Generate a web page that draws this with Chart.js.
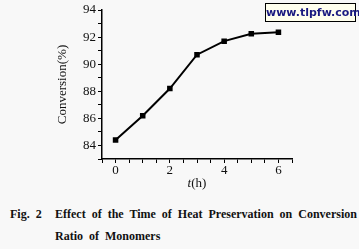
<!DOCTYPE html>
<html>
<head>
<meta charset="utf-8">
<script src="https://cdn.jsdelivr.net/npm/chart.js@4"></script>
<style>
  html, body { margin: 0; padding: 0; background: #f8f8f8; }
  #wrap { position: relative; width: 359px; height: 249px; overflow: hidden; }
  #chart { position: absolute; left: 0; top: 0; }
  .mark {
    position: absolute; left: 265px; top: 3px; width: 89px; height: 17px;
    border: 1px solid #000; background: #ffffee; color: #1a1a80;
    font: bold 11px Verdana, "DejaVu Sans", sans-serif; line-height: 17px; text-align: center;
  }
  .cap {
    position: absolute; font: bold 12px "Liberation Serif", "Times New Roman", serif; color: #111;
    white-space: nowrap; word-spacing: 3px;
  }
</style>
</head>
<body>
<div id="wrap">
  <canvas id="chart" width="359" height="195"></canvas>
  <div class="mark">www.tlpfw.com</div>
  <div class="cap" style="left:10px; top:207px;">Fig. 2</div>
  <div class="cap" style="left:55px; top:207px;">Effect of the Time of Heat Preservation on Conversion</div>
  <div class="cap" style="left:55px; top:229px;">Ratio of Monomers</div>
</div>
<script>
// dados
const horas = [0, 1, 2, 3, 4, 5, 6];
const conversao = [84.4, 86.2, 88.2, 90.7, 91.7, 92.25, 92.35];

const eixoX = { min: -0.5, max: 6.5, passo: 0.5 };
const eixoY = { min: 83, max: 94, passo: 1, titulo: 'Conversion(%)' };

const serif = '"Liberation Serif", "Times New Roman", serif';
const fonteSerif = { family: serif, size: 13 };

// título do eixo x com "t" em itálico
const tituloX = {
    id: 'tituloX',
    afterDraw(chart) {
        const c = chart.ctx;
        const area = chart.chartArea;
        const cx = (area.left + area.right) / 2;
        const y = 184;
        c.save();
        c.fillStyle = '#111';
        c.textBaseline = 'middle';
        c.font = 'italic 13px ' + serif;
        const wT = c.measureText('t').width;
        c.font = '13px ' + serif;
        const wH = c.measureText('(h)').width;
        const x0 = cx - (wT + wH) / 2;
        c.font = 'italic 13px ' + serif;
        c.fillText('t', x0, y);
        c.font = '13px ' + serif;
        c.fillText('(h)', x0 + wT, y);
        c.restore();
    }
};

const ctx = document.getElementById('chart').getContext('2d');
const chart = new Chart(ctx, {
    type: 'line',
    data: {
        datasets: [{
            data: horas.map((h, i) => ({ x: h, y: conversao[i] })),
            borderColor: '#000',
            backgroundColor: '#000',
            borderWidth: 2,
            pointStyle: 'rect',
            pointRadius: 2.5,
            tension: 0
        }]
    },
    plugins: [tituloX],
    options: {
        animation: false,
        responsive: false,
        layout: { padding: { top: 10, left: 0, right: 67, bottom: 0 } },
        plugins: { legend: { display: false }, tooltip: { enabled: false } },
        scales: {
            x: {
                type: 'linear',
                min: eixoX.min, max: eixoX.max,
                afterFit: (s) => { s.height = 36; },
                afterBuildTicks: (s) => {
                    const t = [];
                    for (let v = eixoX.min; v <= eixoX.max + 1e-9; v += eixoX.passo) t.push({ value: +v.toFixed(2) });
                    s.ticks = t;
                },
                ticks: {
                    color: '#111', font: fonteSerif, padding: 0, maxRotation: 0, autoSkip: false,
                    callback: (v) => (Number.isInteger(v) && v % 2 === 0) ? String(v) : ''
                },
                grid: { display: true, drawOnChartArea: false, drawTicks: true, tickLength: 4, color: '#000', lineWidth: 1 },
                border: { display: true, color: '#000', width: 1.5 }
            },
            y: {
                min: eixoY.min, max: eixoY.max,
                afterFit: (s) => { s.width = 102; },
                ticks: {
                    stepSize: eixoY.passo, color: '#111', font: fonteSerif, padding: 2, autoSkip: false,
                    callback: (v) => (Math.round(v) % 2 === 0) ? String(Math.round(v)) : ''
                },
                grid: { display: true, drawOnChartArea: false, drawTicks: true, tickLength: 4, color: '#000', lineWidth: 1 },
                border: { display: true, color: '#000', width: 1.5 },
                title: { display: true, text: eixoY.titulo, color: '#111', font: fonteSerif, padding: { top: 55, bottom: 0 } }
            }
        }
    }
});
</script>
</body>
</html>
